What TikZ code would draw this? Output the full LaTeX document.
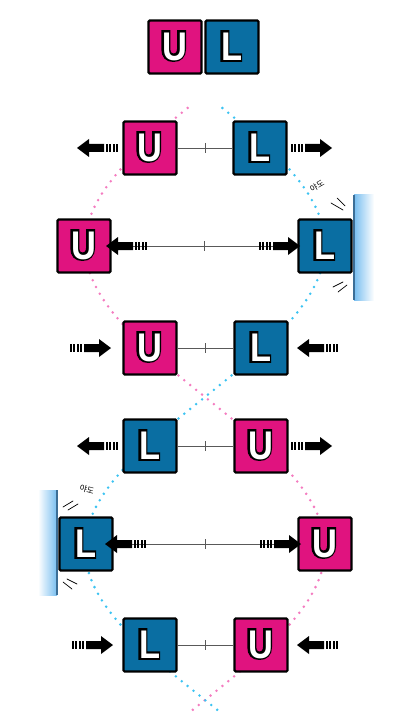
\documentclass[tikz,border=0pt]{standalone}
\usepackage{fontspec}
\usetikzlibrary{calc}
\newfontface\boxin{Liberation Sans Bold}[FakeStretch=0.86]
\newfontface\boxout{Liberation Sans Bold}[FakeStretch=0.86,FakeBold=10]
\newfontfamily\krfont{Noto Sans CJK KR}
\definecolor{upink}{HTML}{E0137F}
\definecolor{lblue}{HTML}{0A6EA2}
\definecolor{dpink}{HTML}{F47CC0}
\definecolor{dblue}{HTML}{3CC3F2}
\definecolor{wallblue}{RGB}{120,190,240}
\definecolor{wallline}{RGB}{60,110,150}
\pgfdeclarelayer{back}
\pgfdeclarelayer{boxes}
\pgfdeclarelayer{front}
\pgfsetlayers{back,boxes,main,front}
\tikzset{
  box/.style={draw=black, line width=2.2pt, rounded corners=1.2pt, minimum width=53pt, minimum height=53pt, inner sep=0pt},
  ubox/.style={box, fill=upink},
  lbox/.style={box, fill=lblue},
  letterout/.style={inner sep=0pt, text=black, font=\boxout\fontsize{40}{40}\selectfont},
  letterin/.style={inner sep=0pt, text=white, font=\boxin\fontsize{40}{40}\selectfont},
  link/.style={draw=black!65, line width=0.8pt},
  dotpink/.style={dpink, line width=2.8pt, line cap=round, dash pattern=on 0pt off 7.6pt},
  dotblue/.style={dblue, line width=2.8pt, line cap=round, dash pattern=on 0pt off 7.6pt},
  ouch/.style={font=\krfont\fontsize{8}{9}\selectfont, inner sep=0pt},
  hit/.style={line width=0.7pt, line cap=round},
  marrow/.pic={
    \fill (0,0) -- (-12,9) -- (-12,4) -- (-27,4) -- (-27,-4) -- (-12,-4) -- (-12,-9) -- cycle;
    \foreach \i in {0,1,2,3} \fill ({-29-3.4*\i},-4) rectangle ++(-2,8);
  }
}
\begin{document}
\begin{tikzpicture}[x=1pt,y=-1pt]
\useasboundingbox (0,0) rectangle (405,719);
\begin{pgfonlayer}{back}
% helix paths
\draw[dotpink] plot[domain=108:710, samples=150, smooth] ({205-120*sin((\x-94)/303*180)}, \x);
\draw[dotblue] plot[domain=108:712, samples=150, smooth] ({205+120*sin((\x-94)/303*180)}, \x);
% walls
\shade[left color=wallblue, right color=white] (354,195) rectangle (374,300);
\draw[wallline, line width=1.2pt] (354,195) -- (354,300);
\shade[left color=white, right color=wallblue] (38,490) rectangle (57,595);
\draw[wallline, line width=1.2pt] (57,490) -- (57,595);
\end{pgfonlayer}
% boxes with outlined letters
\foreach \n/\t/\s/\px/\py in {u0/U/ubox/175/47, l0/L/lbox/232/47,
    u1/U/ubox/150/148, l1/L/lbox/260/148,
    u2/U/ubox/84/246, l2/L/lbox/325/246,
    u3/U/ubox/150/348, l3/L/lbox/261/348,
    l4/L/lbox/150/446, u4/U/ubox/261/446,
    l5/L/lbox/86/544, u5/U/ubox/325/544,
    l6/L/lbox/150/645, u6/U/ubox/261/645}{
  \begin{pgfonlayer}{boxes}
    \node[\s] (\n) at (\px,\py) {};
  \end{pgfonlayer}
  \begin{pgfonlayer}{front}
    \node[letterin] (\n i) at (\n) {\t};
  \end{pgfonlayer}
  \node[letterout, anchor=base west, xshift=-1.3pt, yshift=1pt] (\n o) at (\n i.base west) {\t};
}
% links with ticks
\foreach \a/\b in {u1/l1, u2/l2, u3/l3, l4/u4, l5/u5, l6/u6}{
  \draw[link] (\a) -- (\b);
  \coordinate (m) at ($(\a)!0.5!(\b)$);
  \draw[link] ($(m)+(0,-5)$) -- ($(m)+(0,5)$);
}
% motion arrows
\begin{pgfonlayer}{front}
\pic[rotate=180] at (77,148) {marrow};
\pic at (332,148) {marrow};
\pic[rotate=180] at (106,246) {marrow};
\pic at (300,246) {marrow};
\pic at (111,348) {marrow};
\pic[rotate=180] at (297,348) {marrow};
\pic[rotate=180] at (77,446) {marrow};
\pic at (332,446) {marrow};
\pic[rotate=180] at (105,544) {marrow};
\pic at (301,544) {marrow};
\pic at (113,645) {marrow};
\pic[rotate=180] at (297,645) {marrow};
\end{pgfonlayer}
% impact lines
\draw[hit] (331,203) -- (343,210);
\draw[hit] (337,198) -- (345,206);
\draw[hit] (333,287) -- (343,282);
\draw[hit] (338,292) -- (347,285);
\draw[hit] (73,501) -- (63,507);
\draw[hit] (78,504) -- (68,510);
\draw[hit] (67,579) -- (77,584);
\draw[hit] (63,582) -- (72,589);
% texts
\node[ouch, rotate=30] (t1) at (317,186) {야도};
\node[ouch, rotate=-15] (t2) at (87,490) {야도};
\end{tikzpicture}
\end{document}
